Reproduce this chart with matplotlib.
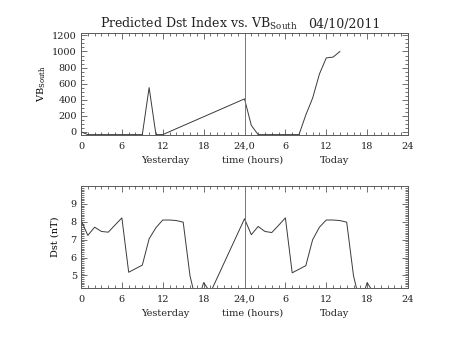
import numpy as np
import matplotlib.pyplot as plt
from matplotlib.ticker import MultipleLocator

plt.rcParams['font.family'] = ['DejaVu Serif']
plt.rcParams['mathtext.fontset'] = 'dejavuserif'
plt.rcParams['text.color'] = '#222222'

# hours run from 0 (start of yesterday) to 48 (end of today)
vb_hours = [0, 1, 9, 10, 11, 12, 24, 25, 26, 32, 33, 34, 35, 36, 37, 38]
vb_south = [0, -35, -35, 550, -35, -35, 410, 80, -35, -35, 210, 420, 720, 920, 930, 1000]

dst_hours = list(range(0, 20)) + list(range(24, 44))
dst_yesterday = [8.1, 7.24, 7.7, 7.46, 7.42, 7.82, 8.22, 5.18, 5.38, 5.58,
                 7.05, 7.67, 8.1, 8.1, 8.07, 7.98, 4.98, 3.4, 4.6, 4.05]
dst_today = [8.17, 7.28, 7.74, 7.46, 7.4, 7.8, 8.22, 5.15, 5.35, 5.55,
             7.0, 7.7, 8.1, 8.1, 8.07, 7.98, 4.98, 3.4, 4.6, 4.0]
dst_vals = dst_yesterday + dst_today

xtick_pos = [0, 6, 12, 18, 24, 30, 36, 42, 48]
xtick_labels = ['0', '6', '12', '18', '24,0', '6', '12', '18', '24']

line_col = '#3a3a3a'
axis_col = '#5a5a5a'
fs = 7

fig = plt.figure(figsize=(4.53, 3.40), dpi=100)
ax1 = fig.add_axes([0.1788, 0.6029, 0.7219, 0.30])
ax2 = fig.add_axes([0.1788, 0.1529, 0.7219, 0.30])


def style_axis(ax, ymin, ymax, ystep, yminor):
    ax.set_xlim(0, 48)
    ax.set_ylim(ymin, ymax)
    ax.set_xticks(xtick_pos)
    ax.set_xticklabels(xtick_labels)
    ax.xaxis.set_minor_locator(MultipleLocator(1))
    ax.yaxis.set_major_locator(MultipleLocator(ystep))
    ax.yaxis.set_minor_locator(MultipleLocator(yminor))
    ax.tick_params(which='both', direction='in', top=True, right=True,
                   color=axis_col, width=0.6, labelsize=fs,
                   labelcolor='#222222')
    ax.tick_params(axis='x', pad=5)
    ax.tick_params(axis='y', pad=3)
    ax.tick_params(which='major', length=4)
    ax.tick_params(which='minor', length=2)
    for s in ax.spines.values():
        s.set_color(axis_col)
        s.set_linewidth(0.7)
    ax.axvline(24, color='#777777', lw=0.7)
    xt = ax.get_xaxis_transform()
    ax.text(12.4, -0.245, 'Yesterday', transform=xt, ha='center', va='center', fontsize=fs)
    ax.text(25.2, -0.245, 'time (hours)', transform=xt, ha='center', va='center', fontsize=fs)
    ax.text(37.2, -0.245, 'Today', transform=xt, ha='center', va='center', fontsize=fs)


# VB south panel
ax1.plot(vb_hours, vb_south, color=line_col, lw=0.7)
style_axis(ax1, -40, 1230, 200, 50)
ax1.set_yticks([0, 200, 400, 600, 800, 1000, 1200])
ax1.set_ylabel(r'VB$_{\mathrm{South}}$', fontsize=fs, labelpad=3)

# Dst panel
ax2.plot(dst_hours, dst_vals, color=line_col, lw=0.7)
style_axis(ax2, 4.3, 10.0, 1, 0.1)
ax2.set_yticks([5, 6, 7, 8, 9])
ax2.set_ylabel('Dst (nT)', fontsize=fs, labelpad=8)

fig.text(100 / 453, 1 - 28 / 340, r'Predicted Dst Index vs. VB$_{\mathrm{South}}$',
         fontsize=9, va='baseline', ha='left')
fig.text(308 / 453, 1 - 28 / 340, '04/10/2011', fontsize=9, va='baseline', ha='left')

fig.savefig('out.png', dpi=100)
